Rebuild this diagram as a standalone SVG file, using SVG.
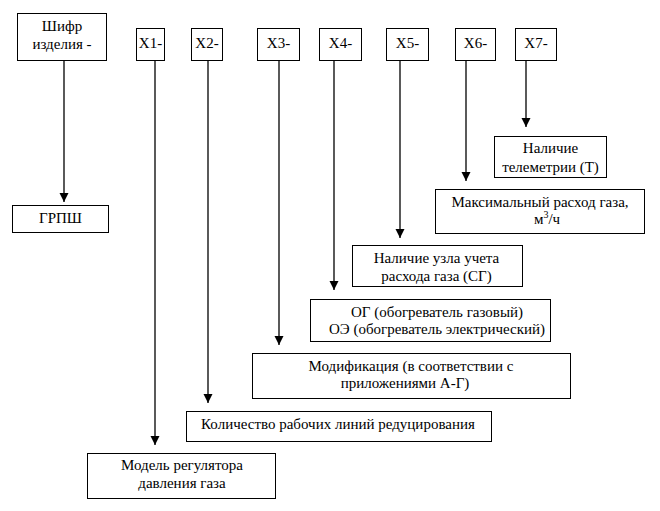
<svg xmlns="http://www.w3.org/2000/svg" width="660" height="511" viewBox="0 0 660 511">
<style>
.b{fill:#fff;stroke:#000;stroke-width:1}
.t{font-family:'Liberation Serif','Times New Roman','DejaVu Serif',serif;font-size:15px;fill:#000;text-anchor:middle}
.c{stroke:#000;stroke-width:1.3;fill:none}
</style>
<defs>
<marker id="a" markerUnits="userSpaceOnUse" markerWidth="10" markerHeight="10" refX="9" refY="4.5" orient="auto">
<path d="M0,0 L9,4.5 L0,9 z" fill="#000"/>
</marker>
</defs>
<rect width="660" height="511" fill="#fff"/>
<g id="connectors">
<line class="c" x1="64" y1="61" x2="64" y2="202" marker-end="url(#a)"/>
<line class="c" x1="155" y1="61" x2="155" y2="445" marker-end="url(#a)"/>
<line class="c" x1="208" y1="61" x2="208" y2="403" marker-end="url(#a)"/>
<line class="c" x1="279" y1="61" x2="279" y2="345" marker-end="url(#a)"/>
<line class="c" x1="334" y1="61" x2="334" y2="290" marker-end="url(#a)"/>
<line class="c" x1="400" y1="61" x2="400" y2="238" marker-end="url(#a)"/>
<line class="c" x1="466" y1="61" x2="466" y2="181" marker-end="url(#a)"/>
<line class="c" x1="526" y1="61" x2="526" y2="127" marker-end="url(#a)"/>
</g>
<g font-family="Liberation Serif, serif">
<g id="shifr"><rect class="b" x="17.5" y="13.5" width="89" height="47"/><text class="t" x="62" y="31">Шифр</text><text class="t" x="62" y="49">изделия -</text></g>
<g id="x1"><rect class="b" x="136.5" y="28.5" width="28" height="32"/><text class="t" x="150.5" y="48">X1-</text></g>
<g id="x2"><rect class="b" x="191.5" y="28.5" width="31" height="32"/><text class="t" x="207" y="48">X2-</text></g>
<g id="x3"><rect class="b" x="257.5" y="28.5" width="42" height="32"/><text class="t" x="278.5" y="48">X3-</text></g>
<g id="x4"><rect class="b" x="319.5" y="28.5" width="42" height="32"/><text class="t" x="340.5" y="48">X4-</text></g>
<g id="x5"><rect class="b" x="386.5" y="28.5" width="42" height="32"/><text class="t" x="407.5" y="48">X5-</text></g>
<g id="x6"><rect class="b" x="455.5" y="28.5" width="40" height="32"/><text class="t" x="475.5" y="48">X6-</text></g>
<g id="x7"><rect class="b" x="515.5" y="28.5" width="41" height="32"/><text class="t" x="536" y="48">X7-</text></g>
<g id="grpsh"><rect class="b" x="12.5" y="205.5" width="96" height="27"/><text class="t" x="60.5" y="223">ГРПШ</text></g>
<g id="telemetry"><rect class="b" x="494.5" y="136.5" width="112" height="41"/><text class="t" x="550.5" y="153">Наличие</text><text class="t" x="550.5" y="172">телеметрии (Т)</text></g>
<g id="maxflow"><rect class="b" x="435.5" y="189.5" width="209" height="44"/><text class="t" x="540" y="207">Максимальный расход газа,</text><text class="t" x="547" y="224">м<tspan dy="-6" font-size="10">3</tspan><tspan dy="6">/ч</tspan></text></g>
<g id="meter"><rect class="b" x="352.5" y="245.5" width="170" height="41"/><text class="t" x="436.5" y="263">Наличие узла учета</text><text class="t" x="436.5" y="281">расхода газа (СГ)</text></g>
<g id="heater"><rect class="b" x="310.5" y="299.5" width="240" height="42"/><text class="t" x="437" y="317">ОГ (обогреватель газовый)</text><text class="t" x="437" y="334">ОЭ (обогреватель электрический)</text></g>
<g id="modification"><rect class="b" x="252.5" y="353.5" width="318" height="45"/><text class="t" x="411" y="371">Модификация (в соответствии с</text><text class="t" x="405" y="388">приложениями А-Г)</text></g>
<g id="lines"><rect class="b" x="186.5" y="411.5" width="305" height="30"/><text class="t" x="338" y="429">Количество рабочих линий редуцирования</text></g>
<g id="regulator"><rect class="b" x="87.5" y="453.5" width="188" height="45"/><text class="t" x="182" y="470">Модель регулятора</text><text class="t" x="182" y="488">давления газа</text></g>
</g>
</svg>
